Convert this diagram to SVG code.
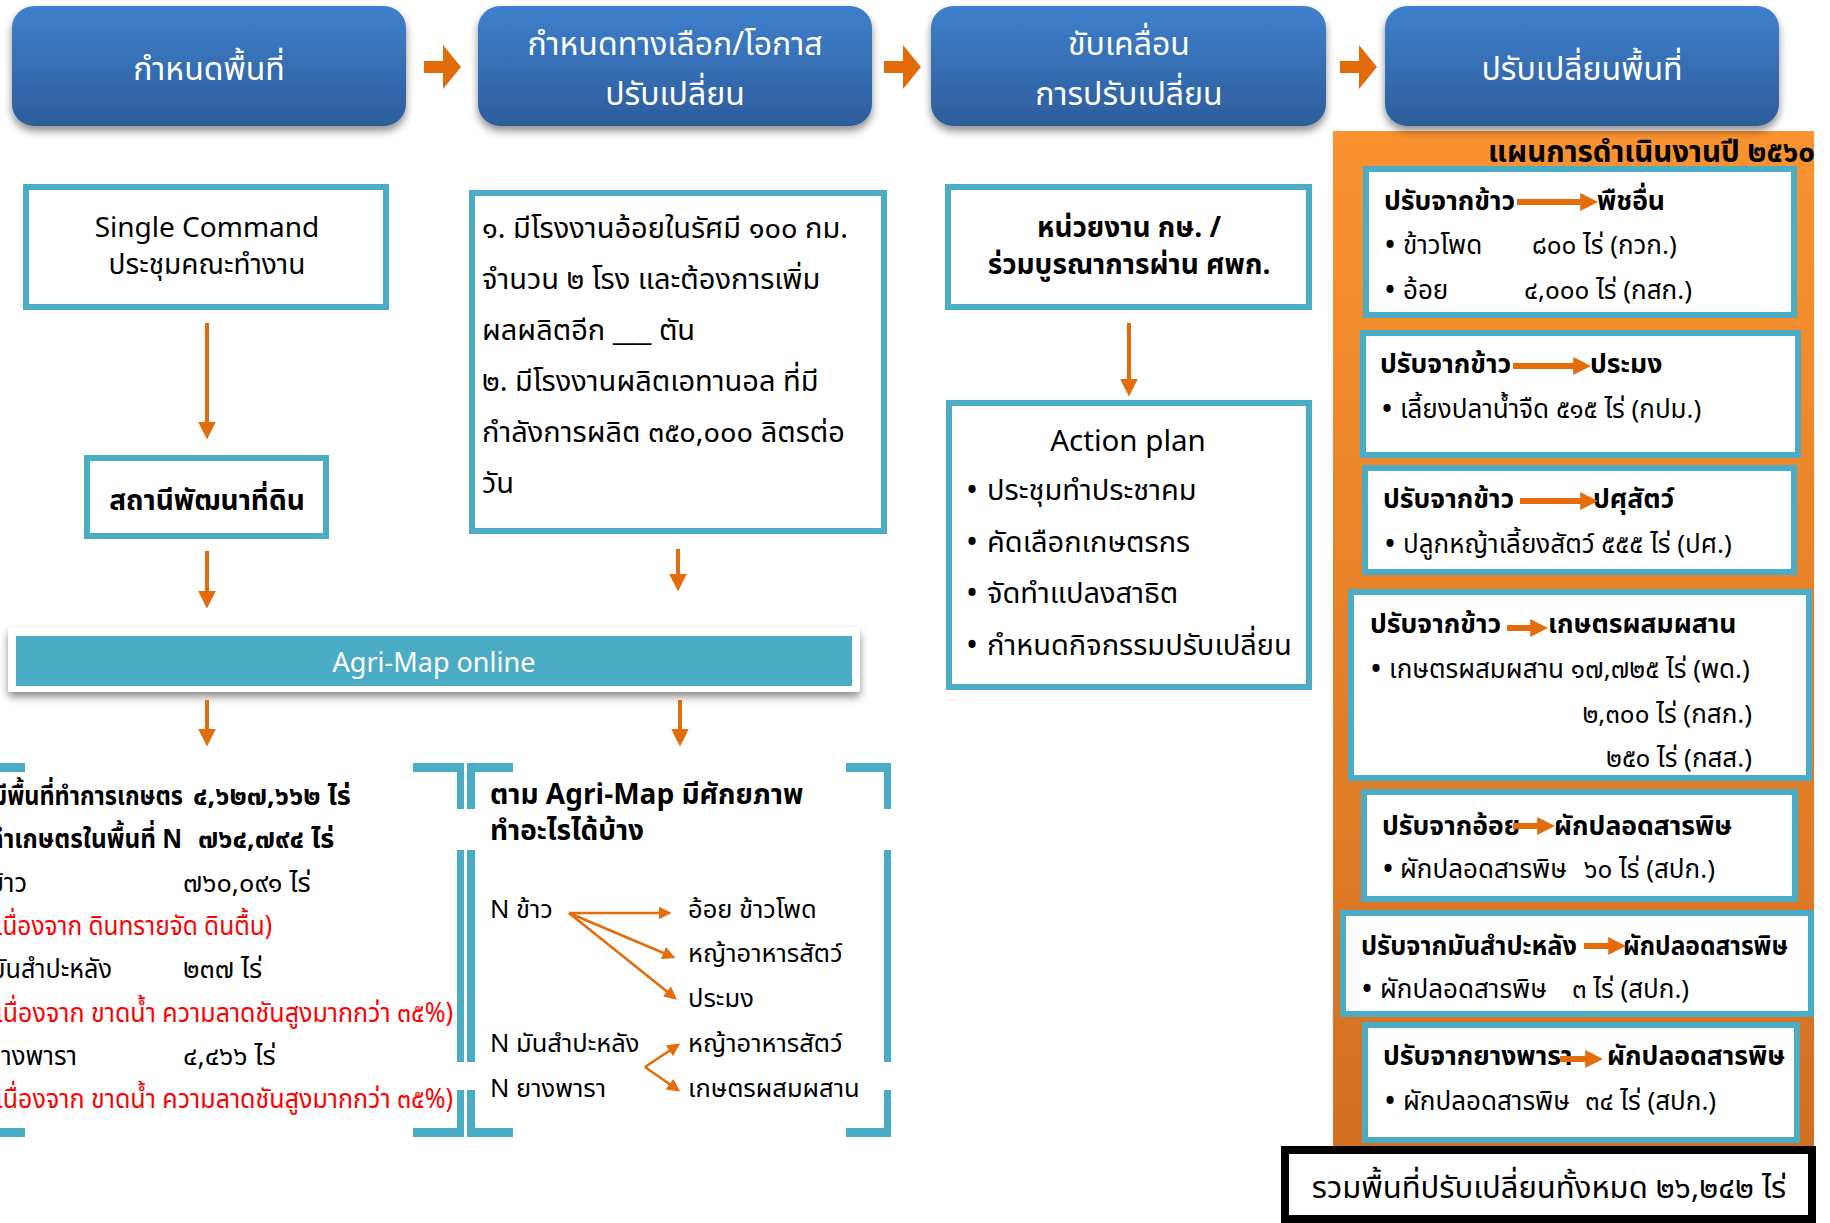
<svg xmlns="http://www.w3.org/2000/svg" width="1830" height="1223" viewBox="0 0 1830 1223">
<defs>
<linearGradient id="gHead" x1="0" y1="0" x2="0" y2="1"><stop offset="0" stop-color="#3F80CD"/><stop offset="1" stop-color="#2D5D9B"/></linearGradient>
<linearGradient id="gPanel" x1="0" y1="0" x2="0" y2="1"><stop offset="0" stop-color="#F9922F"/><stop offset="1" stop-color="#D36F22"/></linearGradient>
<filter id="shadow" x="-10%" y="-20%" width="120%" height="150%"><feGaussianBlur in="SourceAlpha" stdDeviation="4"/><feOffset dy="5"/><feComponentTransfer><feFuncA type="linear" slope="0.45"/></feComponentTransfer><feMerge><feMergeNode/><feMergeNode in="SourceGraphic"/></feMerge></filter>
<marker id="ah" viewBox="0 0 10 10" refX="8" refY="5" markerWidth="4.5" markerHeight="4.5" orient="auto" markerUnits="strokeWidth"><path d="M0,0 L10,5 L0,10 z" fill="#E46C0A"/></marker>
<marker id="ahs" viewBox="0 0 10 10" refX="8" refY="5" markerWidth="5" markerHeight="5" orient="auto" markerUnits="strokeWidth"><path d="M0,0 L10,5 L0,10 z" fill="#E46C0A"/></marker>
<marker id="ahb" viewBox="0 0 10 10" refX="6" refY="5" markerWidth="3" markerHeight="3" orient="auto" markerUnits="strokeWidth"><path d="M0,0 L10,5 L0,10 z" fill="#E46C0A"/></marker>
</defs>
<style>
text{font-family:"Noto Sans Thai","Noto Sans","DejaVu Sans",sans-serif;fill:#000}
.hd{fill:#fff;font-size:32px;text-anchor:middle}
.box{fill:#fff;stroke:#4BACC6;stroke-width:6}
.c{text-anchor:middle}
.t30{font-size:28px}
.t29{font-size:29px}
.b{font-weight:bold}
.red{fill:#FF0000}
.e{text-anchor:end}
.conn{stroke:#E46C0A;fill:none}
.brk{fill:#4BACC6}
.sm{font-size:27px}
.mid{font-size:25.5px}
.rb{font-size:26px}
.rbb{font-size:26.5px;font-weight:bold}
.bul{font-size:32px}
</style>

<g id="headers">
<g id="h1"><rect x="12" y="6" width="394" height="120" rx="22" fill="url(#gHead)" filter="url(#shadow)"/><text class="hd" x="209" y="80">กำหนดพื้นที่</text></g>
<g id="h2"><rect x="478" y="6" width="394" height="120" rx="22" fill="url(#gHead)" filter="url(#shadow)"/><text class="hd" x="675" y="55">กำหนดทางเลือก/โอกาส</text><text class="hd" x="675" y="105">ปรับเปลี่ยน</text></g>
<g id="h3"><rect x="931" y="6" width="395" height="120" rx="22" fill="url(#gHead)" filter="url(#shadow)"/><text class="hd" x="1129" y="55">ขับเคลื่อน</text><text class="hd" x="1129" y="105">การปรับเปลี่ยน</text></g>
<g id="panel"><rect x="1333" y="131" width="481" height="1036" fill="url(#gPanel)"/></g>
<g id="h4"><rect x="1385" y="6" width="394" height="120" rx="22" fill="url(#gHead)" filter="url(#shadow)"/><text class="hd" x="1582" y="80">ปรับเปลี่ยนพื้นที่</text></g>
</g>

<g id="blockarrows" fill="#E36C0A">
<path d="M424,61 H443 V45 L461,67 L443,89 V73 H424 Z"/>
<path d="M884,61 H903 V45 L921,67 L903,89 V73 H884 Z"/>
<path d="M1340,61 H1359 V45 L1377,67 L1359,89 V73 H1340 Z"/>
</g>

<g id="n-single"><rect class="box" x="26" y="187" width="360" height="120"/><text class="c t30" x="207" y="237">Single Command</text><text class="c t30" x="207" y="274">ประชุมคณะทำงาน</text></g>
<g id="n-station"><rect class="box" x="87" y="458" width="239" height="78"/><text class="c t30 b" x="207" y="510">สถานีพัฒนาที่ดิน</text></g>

<g id="n-factory"><rect class="box" x="472" y="193" width="412" height="338"/>
<text class="t29" x="482" y="238">๑. มีโรงงานอ้อยในรัศมี ๑๐๐ กม.</text>
<text class="t29" x="482" y="289">จำนวน ๒ โรง และต้องการเพิ่ม</text>
<text class="t29" x="482" y="340">ผลผลิตอีก ___ ตัน</text>
<text class="t29" x="482" y="391">๒. มีโรงงานผลิตเอทานอล ที่มี</text>
<text class="t29" x="482" y="442">กำลังการผลิต ๓๕๐,๐๐๐ ลิตรต่อ</text>
<text class="t29" x="482" y="493">วัน</text>
</g>

<g id="n-agency"><rect class="box" x="948" y="187" width="361" height="120"/><text class="c t30 b" x="1129" y="237">หน่วยงาน กษ. /</text><text class="c t30 b" x="1129" y="274">ร่วมบูรณาการผ่าน ศพก.</text></g>
<g id="n-action"><rect class="box" x="949" y="403" width="360" height="284"/>
<text class="c" x="1128" y="451" style="font-size:29.5px">Action plan</text>
<text class="bul" x="966" y="501">•</text><text class="t29" x="987" y="500">ประชุมทำประชาคม</text>
<text class="bul" x="966" y="553">•</text><text class="t29" x="987" y="552">คัดเลือกเกษตรกร</text>
<text class="bul" x="966" y="604">•</text><text class="t29" x="987" y="603">จัดทำแปลงสาธิต</text>
<text class="bul" x="966" y="656">•</text><text class="t29" x="987" y="655">กำหนดกิจกรรมปรับเปลี่ยน</text>
</g>

<g id="n-agrimap"><rect x="8" y="627" width="852" height="65" rx="3" fill="#fff" filter="url(#shadow)"/><rect x="16" y="636" width="836" height="50" fill="#4BACC6"/><text class="c" x="434" y="672" style="fill:#fff;font-size:27px">Agri-Map online</text></g>

<g id="n-area">
<g class="brk"><rect x="0" y="763" width="25" height="9"/><rect x="0" y="1128" width="25" height="9"/>
<rect x="413" y="763" width="50" height="9"/><rect x="457" y="763" width="7" height="46"/><rect x="457" y="850" width="7" height="212"/><rect x="457" y="1090" width="7" height="47"/><rect x="413" y="1128" width="50" height="9"/></g>
<g class="sm">
<text class="b" x="-8" y="805" textLength="191" lengthAdjust="spacingAndGlyphs">มีพื้นที่ทำการเกษตร</text><text class="b" x="193" y="805">๔,๖๒๗,๖๖๒ ไร่</text>
<text class="b" x="-12" y="848" textLength="194" lengthAdjust="spacingAndGlyphs">ทำเกษตรในพื้นที่ N</text><text class="b" x="198" y="848">๗๖๔,๗๙๔ ไร่</text>
<text x="-10" y="892" textLength="37" lengthAdjust="spacingAndGlyphs">ข้าว</text><text x="183" y="892">๗๖๐,๐๙๑ ไร่</text>
<text class="red" x="-12" y="935" textLength="284" lengthAdjust="spacingAndGlyphs">(เนื่องจาก ดินทรายจัด ดินตื้น)</text>
<text x="-10" y="978" textLength="122" lengthAdjust="spacingAndGlyphs">มันสำปะหลัง</text><text x="183" y="978">๒๓๗ ไร่</text>
<text class="red" x="-12" y="1022" textLength="465" lengthAdjust="spacingAndGlyphs">(เนื่องจาก ขาดน้ำ ความลาดชันสูงมากกว่า ๓๕%)</text>
<text x="-14" y="1065" textLength="91" lengthAdjust="spacingAndGlyphs">ยางพารา</text><text x="183" y="1065">๔,๔๖๖ ไร่</text>
<text class="red" x="-12" y="1108" textLength="465" lengthAdjust="spacingAndGlyphs">(เนื่องจาก ขาดน้ำ ความลาดชันสูงมากกว่า ๓๕%)</text>
</g>
</g>

<g id="n-potential">
<g class="brk"><rect x="467" y="763" width="46" height="9"/><rect x="467" y="763" width="8" height="46"/><rect x="467" y="850" width="8" height="212"/><rect x="467" y="1090" width="8" height="47"/><rect x="467" y="1128" width="46" height="9"/>
<rect x="846" y="763" width="45" height="9"/><rect x="884" y="763" width="7" height="46"/><rect x="884" y="850" width="7" height="212"/><rect x="884" y="1090" width="7" height="47"/><rect x="846" y="1128" width="45" height="9"/></g>
<text class="t30 b" x="490" y="804">ตาม Agri-Map มีศักยภาพ</text>
<text class="t30 b" x="490" y="840">ทำอะไรได้บ้าง</text>
<g class="mid">
<text x="490" y="918">N ข้าว</text><text x="688" y="918">อ้อย ข้าวโพด</text>
<text x="688" y="962">หญ้าอาหารสัตว์</text>
<text x="688" y="1007">ประมง</text>
<text x="490" y="1052">N มันสำปะหลัง</text><text x="688" y="1052">หญ้าอาหารสัตว์</text>
<text x="490" y="1097">N ยางพารา</text><text x="688" y="1097">เกษตรผสมผสาน</text>
</g>
</g>

<g id="plan">
<text class="b e" x="1815" y="162" style="font-size:29.5px">แผนการดำเนินงานปี ๒๕๖๐</text>
<g id="p1"><rect class="box" x="1366" y="169" width="428" height="146"/>
<text class="rbb" x="1384" y="210">ปรับจากข้าว</text><text class="rbb" x="1597" y="210">พืชอื่น</text>
<text class="bul" x="1384" y="256">•</text><text class="rb" x="1403" y="254">ข้าวโพด</text><text class="rb" x="1532" y="254">๘๐๐ ไร่ (กวก.)</text>
<text class="bul" x="1384" y="301">•</text><text class="rb" x="1403" y="299">อ้อย</text><text class="rb" x="1524" y="299">๔,๐๐๐ ไร่ (กสก.)</text></g>
<g id="p2"><rect class="box" x="1363" y="333" width="435" height="122"/>
<text class="rbb" x="1380" y="373">ปรับจากข้าว</text><text class="rbb" x="1590" y="373">ประมง</text>
<text class="bul" x="1381" y="420">•</text><text class="rb" x="1400" y="418">เลี้ยงปลาน้ำจืด ๕๑๕ ไร่ (กปม.)</text></g>
<g id="p3"><rect class="box" x="1365" y="468" width="429" height="104"/>
<text class="rbb" x="1383" y="508">ปรับจากข้าว</text><text class="rbb" x="1593" y="508">ปศุสัตว์</text>
<text class="bul" x="1384" y="555">•</text><text class="rb" x="1403" y="553">ปลูกหญ้าเลี้ยงสัตว์ ๕๕๕ ไร่ (ปศ.)</text></g>
<g id="p4"><rect class="box" x="1351" y="592" width="458" height="186"/>
<text class="rbb" x="1370" y="633">ปรับจากข้าว</text><text class="rbb" x="1548" y="633">เกษตรผสมผสาน</text>
<text class="bul" x="1370" y="680">•</text><text class="rb" x="1389" y="678">เกษตรผสมผสาน ๑๗,๗๒๕ ไร่ (พด.)</text>
<text class="rb e" x="1752" y="723">๒,๓๐๐ ไร่ (กสก.)</text>
<text class="rb e" x="1752" y="767">๒๕๐ ไร่ (กสส.)</text></g>
<g id="p5"><rect class="box" x="1364" y="792" width="431" height="107"/>
<text class="rbb" x="1382" y="835">ปรับจากอ้อย</text><text class="rbb" x="1554" y="835">ผักปลอดสารพิษ</text>
<text class="bul" x="1382" y="880">•</text><text class="rb" x="1400" y="878">ผักปลอดสารพิษ</text><text class="rb" x="1584" y="878">๖๐ ไร่ (สปก.)</text></g>
<g id="p6"><rect class="box" x="1343" y="913" width="468" height="101"/>
<text class="rbb" x="1361" y="955" textLength="216" lengthAdjust="spacingAndGlyphs">ปรับจากมันสำปะหลัง</text><text class="rbb" x="1623" y="955" textLength="165" lengthAdjust="spacingAndGlyphs">ผักปลอดสารพิษ</text>
<text class="bul" x="1361" y="1000">•</text><text class="rb" x="1380" y="998">ผักปลอดสารพิษ</text><text class="rb" x="1572" y="998">๓ ไร่ (สปก.)</text></g>
<g id="p7"><rect class="box" x="1365" y="1025" width="432" height="115"/>
<text class="rbb" x="1383" y="1065">ปรับจากยางพารา</text><text class="rbb" x="1607" y="1065">ผักปลอดสารพิษ</text>
<text class="bul" x="1384" y="1112">•</text><text class="rb" x="1403" y="1110">ผักปลอดสารพิษ</text><text class="rb" x="1585" y="1110">๓๔ ไร่ (สปก.)</text></g>
</g>

<g id="n-total"><rect x="1285" y="1150" width="527" height="69" fill="#fff" stroke="#000" stroke-width="8"/><text class="c" x="1549" y="1198" style="font-size:31px">รวมพื้นที่ปรับเปลี่ยนทั้งหมด ๒๖,๒๔๒ ไร่</text></g>

<g id="connectors" class="conn">
<line x1="207" y1="323" x2="207" y2="436" stroke-width="4" marker-end="url(#ah)"/>
<line x1="207" y1="551" x2="207" y2="605" stroke-width="4" marker-end="url(#ah)"/>
<line x1="678" y1="549" x2="678" y2="588" stroke-width="4" marker-end="url(#ah)"/>
<line x1="1129" y1="323" x2="1129" y2="393" stroke-width="4" marker-end="url(#ah)"/>
<line x1="207" y1="700" x2="207" y2="743" stroke-width="4" marker-end="url(#ah)"/>
<line x1="680" y1="700" x2="680" y2="743" stroke-width="4" marker-end="url(#ah)"/>
<line x1="569" y1="913" x2="669" y2="913" stroke-width="2.6" marker-end="url(#ahs)"/>
<line x1="569" y1="913" x2="673" y2="957" stroke-width="2.6" marker-end="url(#ahs)"/>
<line x1="569" y1="913" x2="675" y2="998" stroke-width="2.6" marker-end="url(#ahs)"/>
<line x1="645" y1="1067" x2="678" y2="1045" stroke-width="2.6" marker-end="url(#ahs)"/>
<line x1="645" y1="1067" x2="678" y2="1090" stroke-width="2.6" marker-end="url(#ahs)"/>
<line x1="1517" y1="202" x2="1591" y2="202" stroke-width="6" marker-end="url(#ahb)"/>
<line x1="1513" y1="366" x2="1584" y2="366" stroke-width="6" marker-end="url(#ahb)"/>
<line x1="1520" y1="501" x2="1591" y2="501" stroke-width="6" marker-end="url(#ahb)"/>
<line x1="1507" y1="628" x2="1541" y2="628" stroke-width="6" marker-end="url(#ahb)"/>
<line x1="1513" y1="826" x2="1548" y2="826" stroke-width="6" marker-end="url(#ahb)"/>
<line x1="1584" y1="946" x2="1619" y2="946" stroke-width="6" marker-end="url(#ahb)"/>
<line x1="1560" y1="1059" x2="1596" y2="1059" stroke-width="6" marker-end="url(#ahb)"/>
</g>
</svg>
